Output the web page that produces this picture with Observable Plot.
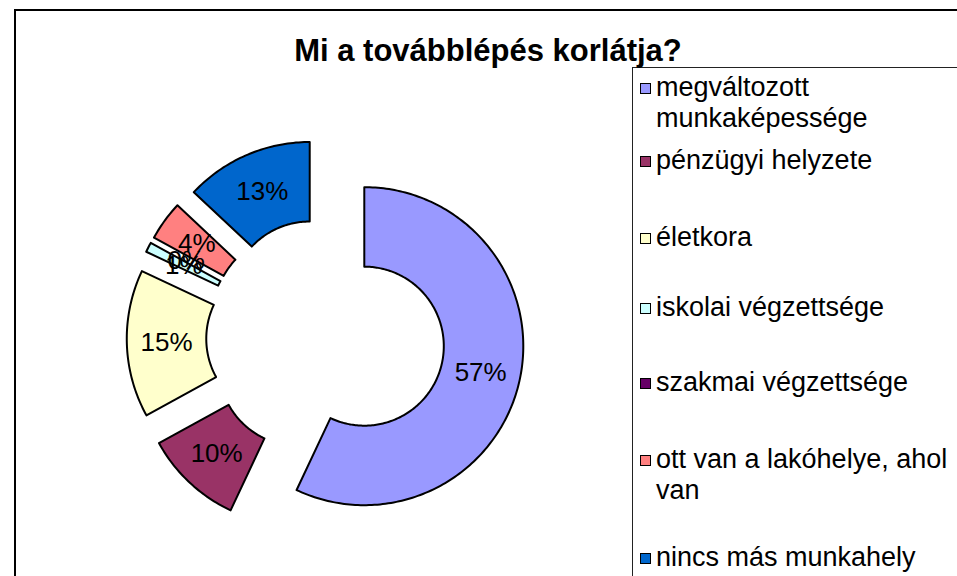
<!DOCTYPE html>
<html>
<head>
<meta charset="utf-8">
<script src="https://cdn.jsdelivr.net/npm/d3@7"></script>
<script src="https://cdn.jsdelivr.net/npm/@observablehq/plot@0.6"></script>
<style>
  html, body { margin: 0; padding: 0; background: #fff; }
  #wrap { position: relative; width: 957px; height: 576px; overflow: hidden; background: #fff;
          font-family: "Liberation Sans", Arial, sans-serif; }
  #chart { position: absolute; left: 0; top: 0; }
  .frame { position: absolute; left: 14px; top: 9px; width: 1200px; height: 1200px;
           border-top: 2px solid #000; border-left: 2px solid #000; box-sizing: border-box; }
  .legendbox { position: absolute; left: 632px; top: 67px; width: 600px; height: 800px;
               border-top: 1px solid #222; border-left: 1px solid #222; box-sizing: border-box; }
  .title { position: absolute; left: 188px; width: 600px; top: 32px; text-align: center;
           font-weight: bold; font-size: 31px; line-height: 38px; color: #000; white-space: nowrap; }
  .item { position: absolute; left: 656px; font-size: 27px; line-height: 31px; color: #000; white-space: nowrap; }
  .sw { position: absolute; left: 640px; width: 11px; height: 11px; border: 1px solid #000; box-sizing: border-box; }
</style>
</head>
<body>
<div id="wrap">
  <div id="chart"></div>
  <div class="frame"></div>
  <div class="legendbox"></div>
  <div class="title" id="title"></div>
  <div id="legend"></div>
</div>
<script>
// ---- data ----
const title = "Mi a továbblépés korlátja?";
const categories = [
  "megváltozott munkaképessége",
  "pénzügyi helyzete",
  "életkora",
  "iskolai végzettsége",
  "szakmai végzettsége",
  "ott van a lakóhelye, ahol van",
  "nincs más munkahely"
];
const legendLines = [
  ["megváltozott", "munkaképessége"],
  ["pénzügyi helyzete"],
  ["életkora"],
  ["iskolai végzettsége"],
  ["szakmai végzettsége"],
  ["ott van a lakóhelye, ahol", "van"],
  ["nincs más munkahely"]
];
const values = [57, 10, 15, 1, 0, 4, 13];
const colors = ["#9999FF", "#993366", "#FFFFCC", "#CCFFFF", "#660066", "#FF8080", "#0066CC"];

// ---- layout ----
const W = 957, H = 576;
const CX = 325, CY = 337, R = 159;   // pixel centre / outer radius
const inner = 0.5;                  // inner radius as fraction of outer
const explode = 0.25;               // explosion offset as fraction of outer
const legendCenters = [87, 160, 237, 307, 382, 459, 557];

// ---- geometry in unit coordinates ----
const total = d3.sum(values);
let acc = 0;
const slices = values.map((v, i) => {
  const a0 = acc / total * 2 * Math.PI;
  acc += v;
  const a1 = acc / total * 2 * Math.PI;
  const mid = (a0 + a1) / 2;
  const ox = explode * Math.sin(mid), oy = explode * Math.cos(mid);
  return {i, v, a0, a1, mid, ox, oy, name: categories[i], color: colors[i]};
});

function polygon(s) {
  const pts = [];
  const n = Math.max(2, Math.ceil((s.a1 - s.a0) / (Math.PI / 180)));
  for (let k = 0; k <= n; k++) {
    const a = s.a0 + (s.a1 - s.a0) * k / n;
    pts.push({x: s.ox + Math.sin(a), y: s.oy + Math.cos(a)});
  }
  for (let k = n; k >= 0; k--) {
    const a = s.a0 + (s.a1 - s.a0) * k / n;
    pts.push({x: s.ox + inner * Math.sin(a), y: s.oy + inner * Math.cos(a)});
  }
  pts.push(pts[0]);
  return pts;
}

const labelR = (1 + inner) / 2;
const labels = slices.map(s => ({
  x: s.ox + labelR * Math.sin(s.mid),
  y: s.oy + labelR * Math.cos(s.mid),
  text: s.v + "%"
}));

const marks = slices.filter(s => s.v > 0).map(s =>
  Plot.line(polygon(s), {x: "x", y: "y", fill: s.color, stroke: "#000", strokeWidth: 2, curve: "linear"})
);
marks.push(Plot.text(labels, {x: "x", y: "y", text: "text", fontSize: 26, fill: "#000",
  fontFamily: "Liberation Sans, Arial, sans-serif", textAnchor: "middle", lineAnchor: "middle"}));

const plot = Plot.plot({
  width: W, height: H,
  margin: 0,
  style: {background: "transparent", overflow: "visible"},
  x: {domain: [-1, 1], range: [CX - R, CX + R], axis: null},
  y: {domain: [-1, 1], range: [CY + R, CY - R], axis: null},
  marks
});
document.getElementById("chart").appendChild(plot);

// ---- title & legend ----
document.getElementById("title").textContent = title;
const leg = document.getElementById("legend");
legendLines.forEach((lines, i) => {
  const c = legendCenters[i];
  const sw = document.createElement("div");
  sw.className = "sw";
  sw.style.top = (c - 4) + "px";
  sw.style.background = colors[i];
  leg.appendChild(sw);
  const t = document.createElement("div");
  t.className = "item";
  t.style.top = (c - 15.5) + "px";
  t.innerHTML = lines.map(l => l.replace(/&/g, "&amp;").replace(/</g, "&lt;")).join("<br>");
  leg.appendChild(t);
});
</script>
</body>
</html>
